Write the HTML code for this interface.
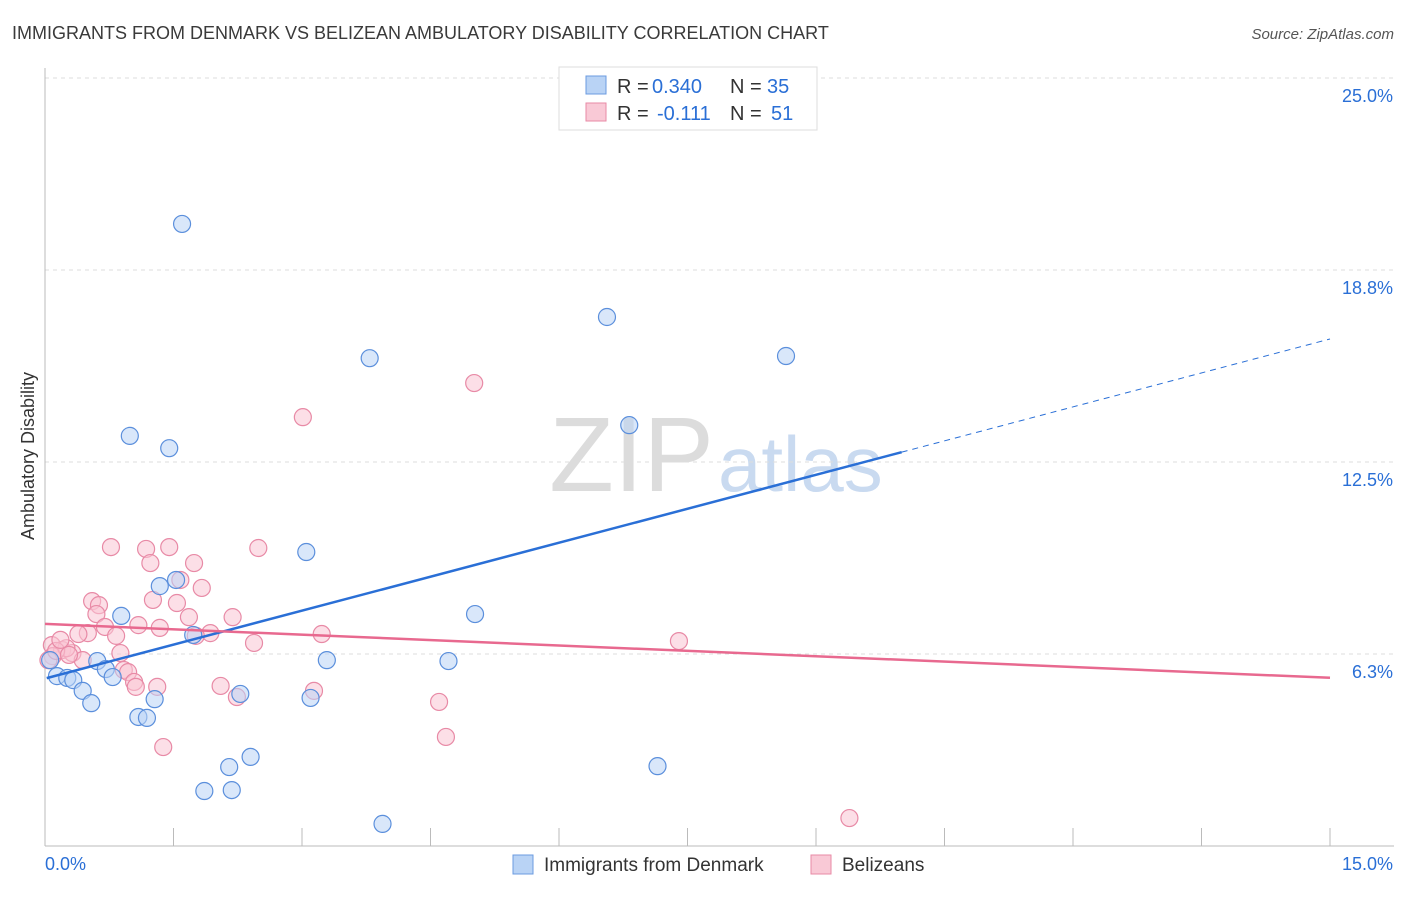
<!DOCTYPE html>
<html><head><meta charset="utf-8"><style>
body{margin:0;background:#fff;font-family:"Liberation Sans",sans-serif}
svg text{font-family:"Liberation Sans",sans-serif}
</style></head><body>
<svg id="chart" width="1406" height="892">
<text x="12" y="39" font-size="18" fill="#3a3a3a">IMMIGRANTS FROM DENMARK VS BELIZEAN AMBULATORY DISABILITY CORRELATION CHART</text>
<text x="1394" y="39" font-size="15" fill="#555" font-style="italic" text-anchor="end">Source: ZipAtlas.com</text>
<text x="714" y="491" font-size="106" fill="#dcdcdc" text-anchor="end" font-family="Liberation Serif">ZIP</text>
<text x="718" y="491" font-size="78" fill="#c9daf0">atlas</text>
<g id="grid"></g><g id="axes"></g><g id="pts"></g><g id="lines"></g>
<text transform="translate(34,456) rotate(-90)" font-size="18" fill="#333" text-anchor="middle">Ambulatory Disability</text>
<g>
<rect x="559" y="67" width="258" height="63" fill="#fff" stroke="#ddd"/>
<rect x="586" y="76" width="20" height="18" fill="#b9d3f5" stroke="#6b9be0"/>
<text x="617" y="93" font-size="20" fill="#333">R =</text>
<text x="652" y="93" font-size="20" fill="#2a6fd6">0.340</text>
<text x="730" y="93" font-size="20" fill="#333">N =</text>
<text x="767" y="93" font-size="20" fill="#2a6fd6">35</text>
<rect x="586" y="103" width="20" height="18" fill="#f9c9d6" stroke="#e88aa6"/>
<text x="617" y="120" font-size="20" fill="#333">R =</text>
<text x="657" y="120" font-size="20" fill="#2a6fd6">-0.111</text>
<text x="730" y="120" font-size="20" fill="#333">N =</text>
<text x="771" y="120" font-size="20" fill="#2a6fd6">51</text>
</g>
<g>
<rect x="513" y="855" width="20" height="19" fill="#b9d3f5" stroke="#6b9be0"/>
<text x="544" y="871" font-size="19" fill="#333">Immigrants from Denmark</text>
<rect x="811" y="855" width="20" height="19" fill="#f9c9d6" stroke="#e88aa6"/>
<text x="842" y="871" font-size="19" fill="#333">Belizeans</text>
</g>
</svg>
<script>
const yTicks=[25,18.75,12.5,6.25];
const yTickLabels=["25.0%","18.8%","12.5%","6.3%"];
const xMin=0,xMax=15;
const blueX=[1.60,6.56,3.79,8.65,6.82,0.99,1.45,3.05,1.53,1.34,0.89,5.02,1.73,3.29,4.71,0.61,0.71,0.06,0.14,0.26,0.33,0.79,0.44,0.54,2.28,1.28,3.10,1.09,1.19,2.40,2.15,7.15,1.86,2.18,3.94];
const blueY=[20.25,17.22,15.88,15.95,13.70,13.35,12.95,9.57,8.66,8.46,7.49,7.55,6.87,6.05,6.02,6.02,5.76,6.05,5.53,5.47,5.40,5.50,5.05,4.65,4.95,4.78,4.82,4.20,4.17,2.90,2.57,2.60,1.79,1.82,0.72];
const pinkX=[0.77,1.18,1.45,2.49,3.01,5.01,1.23,1.74,1.58,1.83,1.26,0.55,0.63,0.60,1.54,1.68,2.19,1.09,0.70,1.34,0.50,0.83,0.39,1.93,1.76,3.23,2.44,7.40,0.08,0.20,0.32,0.09,0.04,0.44,0.25,0.88,0.92,0.97,1.04,1.06,1.31,2.05,2.24,3.14,4.60,4.68,1.38,9.39,0.13,0.28,0.18];
const pinkY=[9.73,9.67,9.73,9.70,13.96,15.07,9.21,9.21,8.66,8.40,8.01,7.97,7.84,7.55,7.91,7.45,7.45,7.19,7.13,7.10,6.93,6.84,6.90,6.93,6.84,6.90,6.61,6.67,6.54,6.38,6.28,6.18,6.05,6.05,6.44,6.28,5.73,5.66,5.34,5.18,5.18,5.21,4.85,5.05,4.69,3.55,3.22,0.91,6.35,6.22,6.71];
const blueTrend=[5.45,0.737]; // intercept, slope
const pinkTrend=[7.23,-0.117];
const NS="http://www.w3.org/2000/svg";
const X=v=>45+(v-xMin)/(xMax-xMin)*1285;
const Y=v=>846-v*30.72;
function mk(t,a,p){const e=document.createElementNS(NS,t);for(const k in a)e.setAttribute(k,a[k]);p.appendChild(e);return e;}
const grid=document.getElementById('grid'),axes=document.getElementById('axes'),pts=document.getElementById('pts'),lines=document.getElementById('lines');
yTicks.forEach((t,i)=>{
 const g=mk('line',{x1:45,x2:1394,y1:Y(t),y2:Y(t),stroke:'#ddd','stroke-dasharray':'4,4'},grid);
 
 
 const l=mk('text',{x:1393,y:Y(t)+24,'font-size':18,fill:'#2a6fd6','text-anchor':'end'},axes);
 l.textContent=yTickLabels[i];
 
 
});
const ya=mk('line',{x1:45,x2:45,y1:68,y2:846,stroke:'#bbb'},axes);


const xa=mk('line',{x1:45,x2:1394,y1:846,y2:846,stroke:'#bbb'},axes);


for(let i=0;i<=10;i++){
 const tk=mk('line',{x1:X(i*1.5),x2:X(i*1.5),y1:828,y2:846,stroke:'#bbb'},axes);
 
 
}
const xl0=mk('text',{x:45,y:870,'font-size':18,fill:'#2a6fd6'},axes);xl0.textContent='0.0%';


const xl1=mk('text',{x:1393,y:870,'font-size':18,fill:'#2a6fd6','text-anchor':'end'},axes);xl1.textContent='15.0%';


function dots(xs,ys,fill,stroke,name){xs.forEach((x,i)=>{
 const c=mk('circle',{cx:X(x),cy:Y(ys[i]),r:8.5,fill:fill,'fill-opacity':0.55,stroke:stroke,'stroke-width':1.2},pts);
 
 
});}
dots(pinkX,pinkY,'#f9c5d3','#e88aa6','point-belizeans');
dots(blueX,blueY,'#b9d3f5','#5b8fdc','point-denmark');
const bx=10.0;
const b1=mk('line',{x1:X(0.02),y1:Y(blueTrend[0]+blueTrend[1]*0.02),x2:X(bx),y2:Y(blueTrend[0]+blueTrend[1]*bx),stroke:'#2a6fd6','stroke-width':2.5},lines);


const b2=mk('line',{x1:X(bx),y1:Y(blueTrend[0]+blueTrend[1]*bx),x2:X(15),y2:Y(blueTrend[0]+blueTrend[1]*15),stroke:'#2a6fd6','stroke-width':1,'stroke-dasharray':'6,5'},lines);


const p1=mk('line',{x1:X(0),y1:Y(pinkTrend[0]),x2:X(15),y2:Y(pinkTrend[0]+pinkTrend[1]*15),stroke:'#e8698f','stroke-width':2.5},lines);


</script>
</body></html>
